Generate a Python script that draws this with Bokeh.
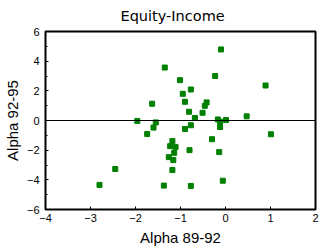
from bokeh.plotting import figure
from bokeh.models import FixedTicker, Span, Range1d
from bokeh.embed import file_html
from bokeh.resources import INLINE

title_text = "Equity-Income"
x_label = "Alpha 89-92"
y_label = "Alpha 92-95"

alpha_89_92 = [-0.10, -1.35, -0.23, 0.89, -1.01, -0.77, -0.95, -1.63, -0.90, -0.42,
               -0.46, -0.81, -0.51, 0.47, -0.68, -0.17, 0.01, -1.96, -0.12, -1.55,
               -1.60, -0.77, -0.90, -0.12, -1.74, -0.30, -1.18, -1.23, -1.11, -0.80,
               -0.14, -1.14, -1.26, -1.16, -1.18, -2.45, -0.06, -1.37, -0.77, -2.80,
               1.01]
alpha_92_95 = [4.79, 3.57, 3.00, 2.36, 2.72, 2.09, 1.80, 1.13, 1.26, 1.22,
               0.99, 0.59, 0.52, 0.28, 0.17, 0.07, 0.03, -0.03, -0.08, -0.13,
               -0.48, -0.32, -0.57, -0.44, -0.91, -1.26, -1.39, -1.73, -1.78, -2.00,
               -2.13, -2.18, -2.47, -2.67, -3.34, -3.27, -4.06, -4.39, -4.41, -4.34,
               -0.93]

x_ticks = [-4, -3, -2, -1, 0, 1, 2]
y_ticks = [-6, -4, -2, 0, 2, 4, 6]
y_minor = [-5, -3, -1, 1, 3, 5]

FONT = "Liberation Sans"

p = figure(width=320, height=248, output_backend="svg", toolbar_location=None,
           x_range=Range1d(-4, 2), y_range=Range1d(-6, 6),
           min_border_left=38, min_border_right=5, min_border_top=31, min_border_bottom=38)

p.title.text = title_text
p.title.align = "left"
p.title.offset = 75
p.title.vertical_align = "top"
p.title.standoff = 12
p.title.text_font = "DejaVu Sans"
p.title.text_font_size = "14.5px"
p.title.text_font_style = "normal"
p.title.text_color = "black"

p.xgrid.visible = False
p.ygrid.visible = False
p.outline_line_color = "black"
p.outline_line_width = 2
p.outline_line_alpha = 1
p.background_fill_color = "white"
p.border_fill_color = "white"

p.xaxis.ticker = FixedTicker(ticks=x_ticks)
p.yaxis.ticker = FixedTicker(ticks=y_ticks, minor_ticks=y_minor)

for ax in (p.xaxis[0], p.yaxis[0]):
    ax.axis_line_color = None
    ax.major_tick_in = 3
    ax.major_tick_out = 0
    ax.minor_tick_in = 2
    ax.minor_tick_out = 0
    ax.major_tick_line_color = "black"
    ax.minor_tick_line_color = "black"
    ax.major_label_text_font = FONT
    ax.major_label_text_font_size = "11px"
    ax.major_label_text_color = "black"
    ax.axis_label_text_font = FONT
    ax.axis_label_text_font_size = "15px"
    ax.axis_label_text_font_style = "normal"
    ax.axis_label_text_color = "black"

p.xaxis.minor_tick_line_color = None
p.xaxis.axis_label = x_label
p.yaxis.axis_label = y_label
p.xaxis.major_label_standoff = 4
p.yaxis.major_label_standoff = 6
p.xaxis.axis_label_standoff = 4
p.yaxis.axis_label_standoff = 3

zero = Span(location=0, dimension="width", line_color="black", line_width=1)
p.add_layout(zero)

p.scatter(alpha_89_92, alpha_92_95, marker="square", size=5,
          fill_color="green", line_color="green")

open("out.html", "w").write(file_html(p, INLINE))
